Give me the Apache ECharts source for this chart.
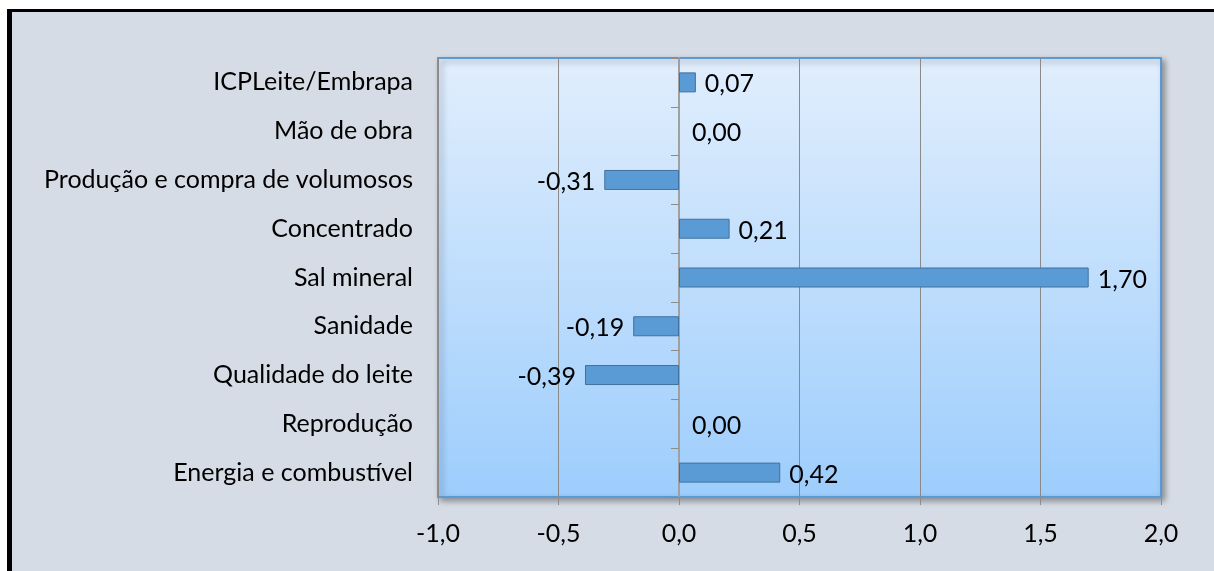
<!DOCTYPE html>
<html>
<head>
<meta charset="utf-8">
<script src="https://cdn.jsdelivr.net/npm/echarts@6/dist/echarts.min.js"></script>
<style>
  html, body { margin: 0; padding: 0; background: #ffffff; }
  #frame { position: absolute; left: 7px; top: 9px; width: 1300px; height: 700px;
           border-left: 5px solid #000; border-top: 3px solid #000; background: #d6dce5; }
  #chart { position: absolute; left: 0; top: 0; width: 1214px; height: 571px; }
</style>
</head>
<body>
<div id="frame"></div>
<div id="chart"></div>
<script>
const categories = [
  'ICPLeite/Embrapa',
  'Mão de obra',
  'Produção e compra de volumosos',
  'Concentrado',
  'Sal mineral',
  'Sanidade',
  'Qualidade do leite',
  'Reprodução',
  'Energia e combustível'
];
const values = [0.07, 0.00, -0.31, 0.21, 1.70, -0.19, -0.39, 0.00, 0.42];
const xTicks = { min: -1.0, max: 2.0, interval: 0.5 };

const FONT = 'Lato';
const FS = 25;
const fmt2 = v => v.toFixed(2).replace('.', ',');
const fmt1 = v => v.toFixed(1).replace('.', ',');

const chart = echarts.init(document.getElementById('chart'), null, { renderer: 'canvas' });
chart.setOption({
  backgroundColor: 'transparent',
  animation: false,
  textStyle: { fontFamily: FONT },
  grid: {
    left: 438, top: 58, right: 53, bottom: 74,
    show: true,
    borderColor: '#5b9bd5', borderWidth: 2,
    backgroundColor: new echarts.graphic.LinearGradient(0, 0, 0, 1, [
      { offset: 0, color: '#e1eefd' },
      { offset: 1, color: '#9dcdfc' }
    ]),
    shadowColor: 'rgba(0,0,0,0.35)', shadowBlur: 6, shadowOffsetX: 3, shadowOffsetY: 3
  },
  xAxis: {
    type: 'value',
    min: xTicks.min, max: xTicks.max, interval: xTicks.interval,
    axisLine: { show: false },
    axisTick: { show: true, length: 8, lineStyle: { color: '#8c8c8c' } },
    splitLine: { show: true, lineStyle: { color: '#8a8a8a', width: 1 } },
    axisLabel: { formatter: fmt1, color: '#000', fontSize: FS, fontFamily: FONT, margin: 24 }
  },
  yAxis: [
    {
      type: 'category', data: categories, inverse: true,
      position: 'left',
      axisLine: { show: false, onZero: false },
      axisTick: { show: false },
      axisLabel: { color: '#000', fontSize: FS, fontFamily: FONT, margin: 25 }
    },
    {
      type: 'category', data: categories, inverse: true,
      position: 'right',
      axisLine: { show: true, onZero: true, lineStyle: { color: '#a0a0a0', width: 2 } },
      axisTick: { show: true, inside: true, length: 8, lineStyle: { color: '#8c8c8c' } },
      axisLabel: { show: false },
      splitLine: { show: false }
    }
  ],
  series: [{
    type: 'bar',
    yAxisIndex: 0,
    barWidth: 20,
    itemStyle: { color: '#5b9bd5', borderColor: '#41719c', borderWidth: 1 },
    label: {
      show: true, position: 'right', distance: 9, offset: [0, 2],
      color: '#000', fontSize: FS, fontFamily: FONT,
      formatter: p => fmt2(p.value)
    },
    data: values.map(v => {
      if (v < 0) return { value: v, label: { position: 'left' } };
      if (v === 0) return { value: v, itemStyle: { borderWidth: 0 }, label: { distance: 13 } };
      return v;
    })
  }]
});
</script>
</body>
</html>
